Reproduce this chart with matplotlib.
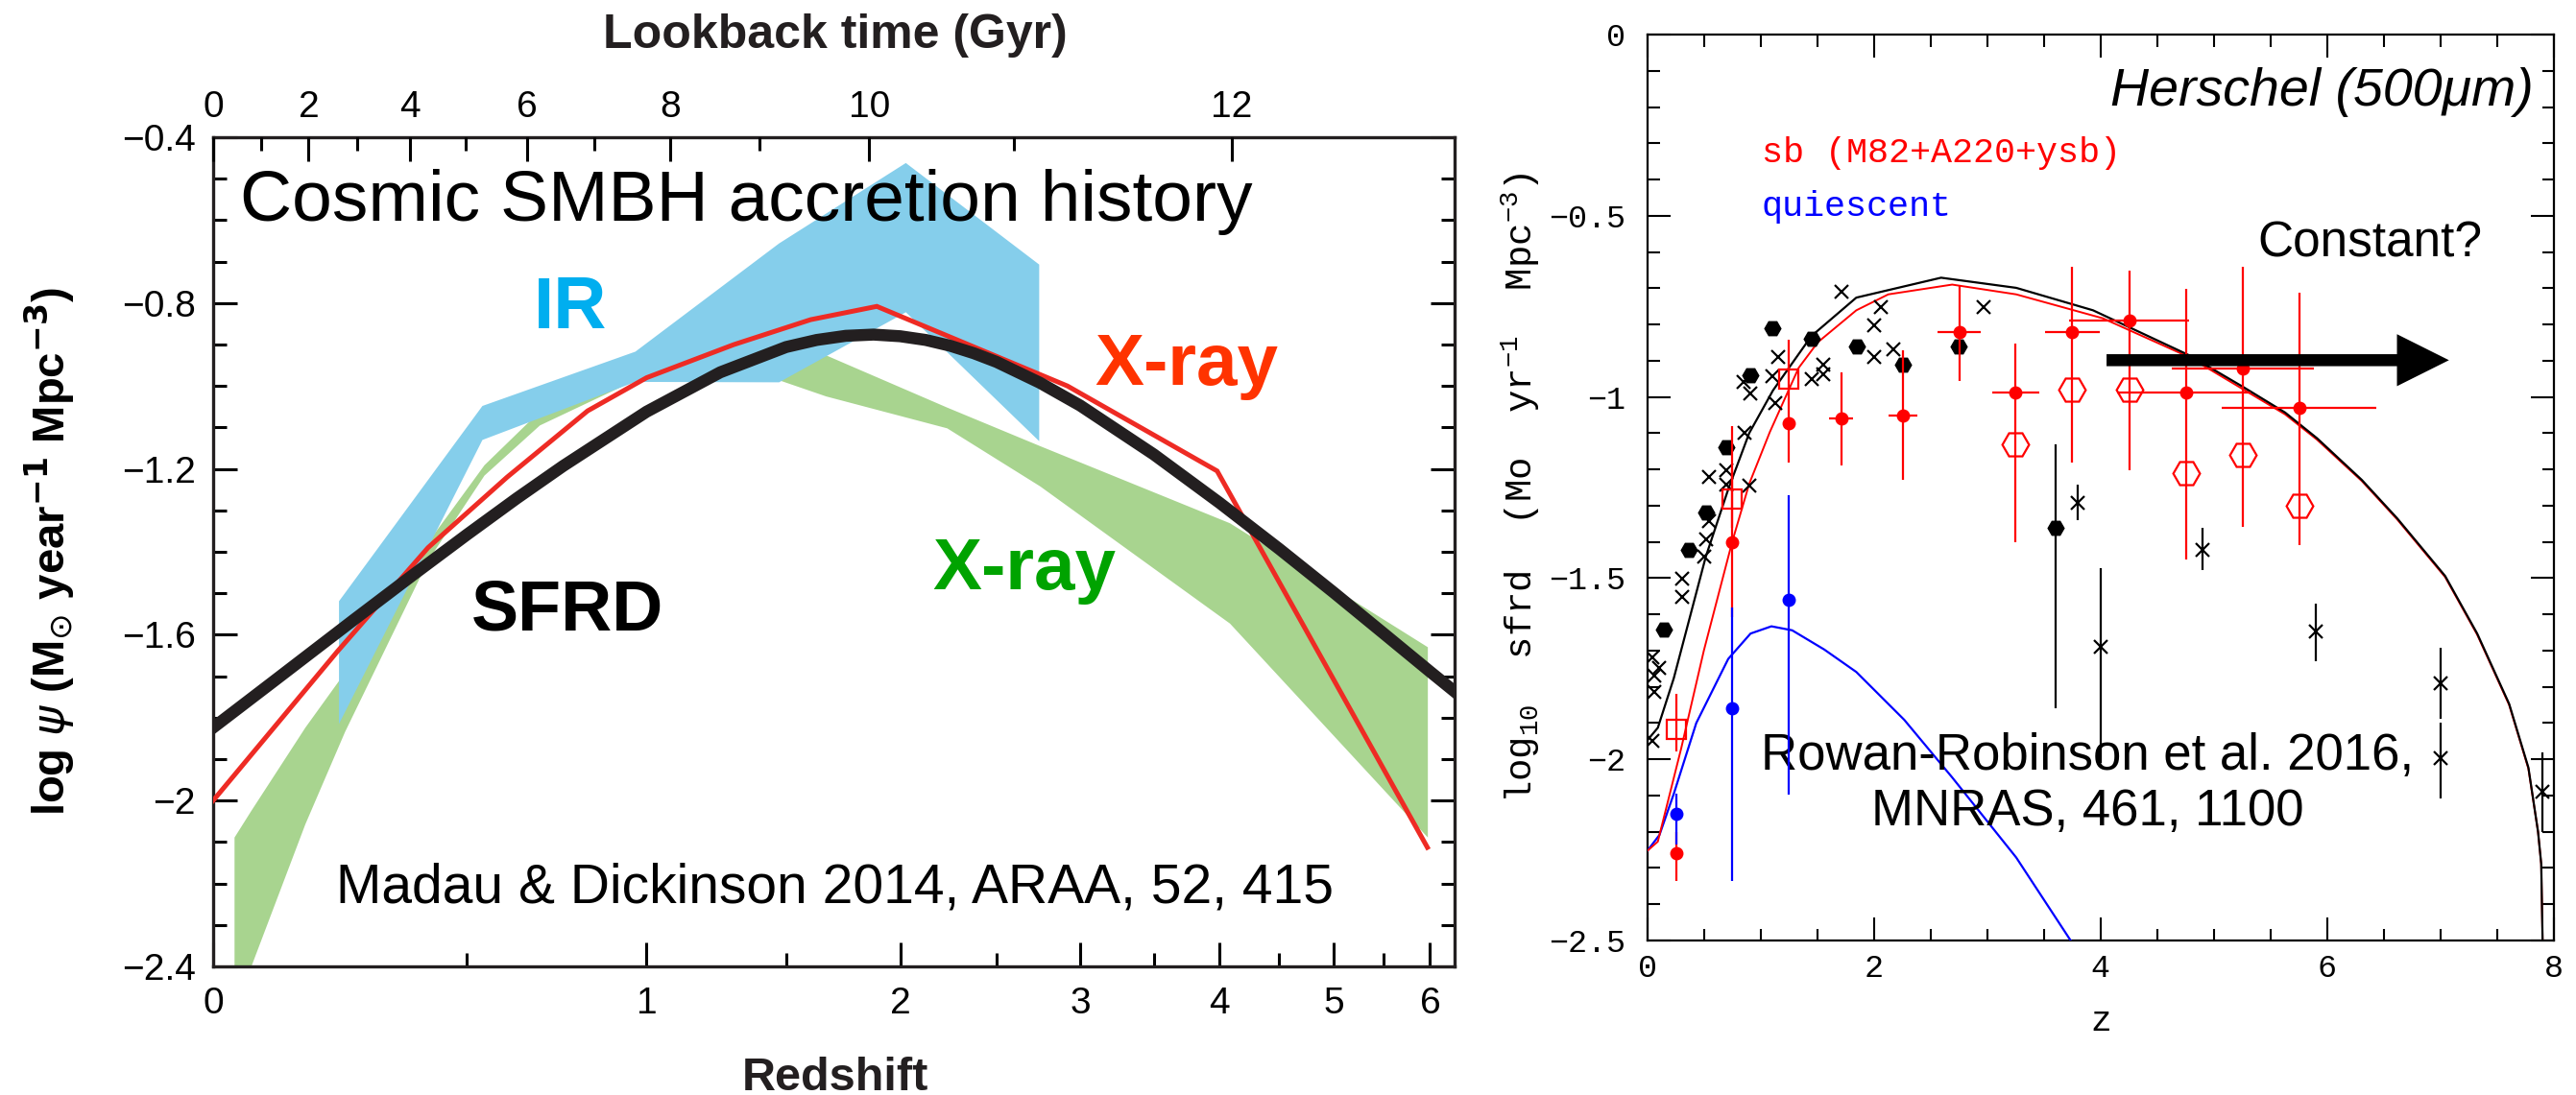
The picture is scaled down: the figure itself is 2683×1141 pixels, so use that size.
import numpy as np
import matplotlib
matplotlib.use("Agg")
import matplotlib.pyplot as plt
from matplotlib.ticker import FixedLocator, MultipleLocator

plt.rcParams.update({
    "font.family": ["Liberation Sans", "DejaVu Sans"],
    "mathtext.fontset": "custom",
    "mathtext.rm": "Liberation Mono",
    "mathtext.it": "Liberation Mono:italic",
    "mathtext.bf": "Liberation Mono:bold",
})

# ---------------- left panel (Madau & Dickinson 2014) ----------------
sfrd_z = [0, 0.1, 0.25, 0.375, 0.5, 0.625, 0.75, 1.0, 1.25, 1.5, 1.625, 1.75, 1.875,
          2.0, 2.125, 2.25, 2.375, 2.5, 2.75, 3.0, 3.5, 4.0, 4.5, 5.0, 5.5, 6.0, 6.28]
sfrd_v = [-1.824, -1.714, -1.566, -1.457, -1.359, -1.271, -1.193, -1.062, -0.967,
          -0.906, -0.889, -0.879, -0.876, -0.880, -0.889, -0.903, -0.921, -0.942,
          -0.992, -1.047, -1.165, -1.282, -1.393, -1.498, -1.597, -1.689, -1.737]

xray_red_z = [0, 0.22, 0.41, 0.6, 0.82, 1.0, 1.3, 1.6, 1.89, 2.92, 3.98, 5.97]
xray_red_v = [-2.00, -1.64, -1.39, -1.22, -1.06, -0.98, -0.90, -0.84, -0.808,
              -1.00, -1.205, -2.113]

ir_z = [0.222, 0.537, 0.963, 1.47, 2.025, 2.744]
ir_hi = [-1.518, -1.047, -0.916, -0.655, -0.461, -0.706]
ir_lo = [-1.814, -1.129, -0.989, -0.990, -0.821, -1.132]

xg_z = [0.034, 0.062, 0.158, 0.234, 0.41, 0.542, 0.685, 0.963, 1.47, 1.663,
        2.232, 2.75, 4.08, 5.97]
xg_hi = [-2.088, -2.024, -1.823, -1.69, -1.375, -1.19, -1.06, -0.97, -0.975,
         -0.925, -1.051, -1.144, -1.33, -1.629]
xg_lo = [-2.51, -2.40, -2.056, -1.833, -1.419, -1.215, -1.094, -0.985, -0.985,
         -1.024, -1.101, -1.241, -1.572, -2.088]

z_ticks = [0, 1, 2, 3, 4, 5, 6]
z_minor = [0.5, 1.5, 2.5, 3.5, 4.5, 5.5]
lookback_gyr = [0, 1, 2, 3, 4, 5, 6, 7, 8, 9, 10, 11, 12]
lookback_z = [0, 0.079, 0.165, 0.259, 0.370, 0.498, 0.653, 0.840, 1.076, 1.395,
              1.855, 2.596, 4.097]
psi_ticks = [-0.4, -0.8, -1.2, -1.6, -2.0, -2.4]
psi_labels = ["\u22120.4", "\u22120.8", "\u22121.2", "\u22121.6", "\u22122", "\u22122.4"]

# ---------------- right panel (Rowan-Robinson et al. 2016) ----------------
mod_blk_z = [0, 0.094, 0.235, 0.517, 0.715, 0.9, 1.11, 1.449, 1.845, 2.593, 3.256,
             3.934, 4.781, 5.261, 5.628, 5.91, 6.305, 6.617, 7.04, 7.323, 7.605,
             7.775, 7.86, 7.888, 7.90]
mod_blk_v = [-1.948, -1.913, -1.776, -1.441, -1.255, -1.10, -0.982, -0.832, -0.726,
             -0.671, -0.699, -0.761, -0.885, -0.973, -1.043, -1.114, -1.229, -1.335,
             -1.494, -1.653, -1.847, -2.023, -2.2, -2.288, -2.5]
mod_red_z = [0, 0.094, 0.30, 0.50, 0.75, 0.90, 1.082, 1.336, 1.506, 1.845, 2.127,
             2.691, 3.256, 4.02, 4.781, 5.628, 5.91, 6.305, 6.617, 7.04, 7.323, 7.605,
             7.775, 7.86, 7.888, 7.90]
mod_red_v = [-2.253, -2.227, -1.97, -1.70, -1.40, -1.24, -1.097, -0.92, -0.849,
             -0.761, -0.717, -0.690, -0.717, -0.783, -0.89, -1.048, -1.118, -1.232,
             -1.338, -1.497, -1.656, -1.85, -2.026, -2.2, -2.29, -2.5]
mod_blu_z = [0, 0.108, 0.235, 0.433, 0.715, 0.912, 1.096, 1.279, 1.562, 1.845, 2.268,
             2.691, 3.256, 3.736]
mod_blu_v = [-2.253, -2.209, -2.095, -1.90, -1.723, -1.653, -1.633, -1.644, -1.697,
             -1.759, -1.891, -2.05, -2.271, -2.5]

hex_z = [0.150, 0.371, 0.523, 0.701, 0.907, 1.102, 1.455, 1.853, 2.254, 2.748]
hex_v = [-1.641, -1.421, -1.320, -1.139, -0.939, -0.811, -0.839, -0.860, -0.911, -0.861]
hexe_z = [3.603]
hexe_v = [-1.361]
hexe_lo = [-1.86]
hexe_hi = [-1.132]

cross_z = [0.043, 0.06, 0.06, 0.108, 0.043, 0.306, 0.306, 0.503, 0.517, 0.546, 0.546,
           0.701, 0.701, 0.851, 0.856, 0.899, 0.907, 1.102, 1.13, 1.158, 1.455, 1.557,
           1.557, 1.712, 2.006, 2.006, 2.065, 2.175, 2.97]
cross_v = [-1.948, -1.815, -1.768, -1.749, -1.718, -1.551, -1.501, -1.441, -1.392,
           -1.343, -1.22, -1.242, -1.203, -0.96, -1.10, -1.246, -0.99, -0.942, -1.017,
           -0.891, -0.951, -0.937, -0.911, -0.710, -0.891, -0.803, -0.751, -0.869, -0.751]
crosse_z = [3.801, 4.004, 4.902, 5.902, 6.998, 6.998, 7.90]
crosse_v = [-1.292, -1.69, -1.421, -1.648, -1.789, -1.998, -2.089]
crosse_lo = [-1.339, -2.010, -1.479, -1.73, -1.887, -2.109, -2.2]
crosse_hi = [-1.242, -1.472, -1.361, -1.571, -1.691, -1.90, -1.981]

rc_z = [0.255, 0.752, 1.251, 1.712, 2.254, 2.754, 3.251, 3.751, 4.253, 4.753, 5.253, 5.755]
rc_v = [-2.26, -1.401, -1.072, -1.06, -1.051, -0.82, -0.989, -0.82, -0.789, -0.989,
        -0.922, -1.03]
rc_lo = [-2.337, -1.607, -1.181, -1.189, -1.229, -0.955, -1.40, -1.181, -1.203, -1.448,
         -1.359, -1.41]
rc_hi = [-2.20, -1.08, -0.841, -0.931, -0.872, -0.69, -0.852, -0.642, -0.652, -0.702,
         -0.642, -0.713]
rc_zlo = [0.255, 0.752, 1.251, 1.605, 2.127, 2.565, 3.044, 3.511, 3.722, 4.142, 4.626, 5.072]
rc_zhi = [0.255, 0.752, 1.251, 1.817, 2.381, 2.94, 3.462, 3.991, 4.781, 5.327, 5.882, 6.433]

sq_z = [0.255, 0.752, 1.251]
sq_v = [-1.917, -1.282, -0.951]
sq_lo = [-1.979, -1.36, -0.951]
sq_hi = [-1.82, -1.20, -0.951]

ohex_z = [3.251, 3.751, 4.253, 4.753, 5.253, 5.755]
ohex_v = [-1.13, -0.98, -0.98, -1.209, -1.161, -1.30]

bd_z = [0.255, 0.752, 1.251]
bd_v = [-2.15, -1.86, -1.56]
bd_lo = [-2.235, -2.337, -2.098]
bd_hi = [-2.094, -1.582, -1.271]


def fwd(z):
    return np.log10(np.maximum(1.0 + np.asarray(z, float), 1e-9))


def inv(v):
    return 10.0 ** np.asarray(v, float) - 1.0


W, H = 2683, 1141
fig = plt.figure(figsize=(W / 100, H / 100), dpi=100)
fig.patch.set_facecolor("white")

# ======================= LEFT =======================
axL = fig.add_axes([222 / W, 1 - 1007 / H, 1293 / W, 864 / H])
axL.set_xscale("function", functions=(fwd, inv))
axL.set_xlim(0, 6.28)
axL.set_ylim(-2.4, -0.4)

axL.fill_between(xg_z, xg_lo, xg_hi, color="#A8D48F", lw=0, zorder=1)
axL.fill_between(ir_z, ir_lo, ir_hi, color="#85CEEB", lw=0, zorder=2)
axL.plot(xray_red_z, xray_red_v, color="#EE2B24", lw=3.6, zorder=3,
         solid_joinstyle="miter")
axL.plot(sfrd_z, sfrd_v, color="#231F20", lw=9, zorder=4, solid_joinstyle="round")

axL.xaxis.set_major_locator(FixedLocator(z_ticks))
axL.xaxis.set_minor_locator(FixedLocator(z_minor))
axL.set_xticklabels([str(t) for t in z_ticks])
axL.set_yticks(psi_ticks, psi_labels)
axL.yaxis.set_minor_locator(MultipleLocator(0.1))
axL.tick_params(which="both", direction="in", top=False, right=True, width=2.2,
                labelsize=28)
axL.tick_params(which="major", length=18)
axL.tick_params(which="minor", length=10)
axL.tick_params(axis="x", pad=15)
axL.tick_params(axis="y", pad=13)
for s in axL.spines.values():
    s.set_linewidth(2.4)
    s.set_color("#231F20")

axT = axL.twiny()
axT.set_xscale("function", functions=(fwd, inv))
axT.set_xlim(axL.get_xlim())
axT.xaxis.set_major_locator(FixedLocator(lookback_z[::2]))
axT.set_xticklabels([str(g) for g in lookback_gyr[::2]])
axT.xaxis.set_minor_locator(FixedLocator(lookback_z[1::2]))
axT.tick_params(which="both", direction="in", width=2.2, labelsize=28, pad=9)
axT.tick_params(which="major", length=18)
axT.tick_params(which="minor", length=10)
for s in axT.spines.values():
    s.set_visible(False)

axT.set_xlabel("Lookback time (Gyr)", fontsize=36, fontweight="bold", color="#231F20")
axT.xaxis.set_label_coords(0.501, 1 + (143 - 50) / 864)
axT.xaxis.label.set_va("baseline")
axL.set_xlabel("Redshift", fontsize=35, fontweight="bold", color="#231F20")
axL.xaxis.set_label_coords(0.501, -(1136 - 1007) / 864)
axL.xaxis.label.set_va("baseline")
axL.set_ylabel(r"log $\psi$ (M$_{\odot}$ year$^{\mathbf{-1}}$ Mpc$^{\mathbf{-3}}$)",
               fontsize=34, fontweight="bold", math_fontfamily="dejavusans")
axL.yaxis.set_label_coords(-(222 - 80) / 1293, 0.5)

axL.text(0.0217, 0.8993, "Cosmic SMBH accretion history", transform=axL.transAxes,
         fontsize=54, va="baseline", ha="left")
axL.text(0.258, 0.7692, "IR", transform=axL.transAxes, fontsize=55,
         fontweight="bold", color="#00AEEF", va="baseline")
axL.text(0.71, 0.7014, "X-ray", transform=axL.transAxes, fontsize=55,
         fontweight="bold", color="#FF3300", va="baseline")
axL.text(0.5797, 0.4549, "X-ray", transform=axL.transAxes, fontsize=55,
         fontweight="bold", color="#00A300", va="baseline")
axL.text(0.2078, 0.404, "SFRD", transform=axL.transAxes, fontsize=53,
         fontweight="bold", color="black", va="baseline")
axL.text(0.0988, 0.0775, "Madau & Dickinson 2014, ARAA, 52, 415",
         transform=axL.transAxes, fontsize=41, va="baseline")

# ======================= RIGHT =======================
axR = fig.add_axes([1715.6 / W, 1 - 980 / H, 944.4 / W, 944 / H])
axR.set_xlim(0, 8)
axR.set_ylim(-2.5, 0)

axR.plot(mod_blu_z, mod_blu_v, color="blue", lw=1.6, zorder=3)
axR.plot(mod_red_z, mod_red_v, color="red", lw=1.4, zorder=3)
axR.plot(mod_blk_z, mod_blk_v, color="black", lw=1.6, zorder=3.5)

ekw = dict(capsize=0, elinewidth=1.6, linestyle="none")
axR.plot(hex_z, hex_v, "H", color="black", ms=12, zorder=4)
axR.errorbar(hexe_z, hexe_v,
             yerr=[np.subtract(hexe_v, hexe_lo), np.subtract(hexe_hi, hexe_v)],
             fmt="H", color="black", ms=12, zorder=4, **ekw)
axR.plot(cross_z, cross_v, "x", color="black", ms=10, mew=1.6, zorder=4)
axR.errorbar(crosse_z, crosse_v,
             yerr=[np.subtract(crosse_v, crosse_lo), np.subtract(crosse_hi, crosse_v)],
             fmt="x", color="black", ms=10, mew=1.6, zorder=4, **ekw)
axR.errorbar(rc_z, rc_v,
             yerr=[np.subtract(rc_v, rc_lo), np.subtract(rc_hi, rc_v)],
             xerr=[np.subtract(rc_z, rc_zlo), np.subtract(rc_zhi, rc_z)],
             fmt="o", color="red", ms=9, zorder=5, **ekw)
axR.errorbar(sq_z, sq_v,
             yerr=[np.subtract(sq_v, sq_lo), np.subtract(sq_hi, sq_v)],
             fmt="s", color="red", mfc="none", ms=14, mew=1.6, zorder=5, **ekw)
axR.plot(ohex_z, ohex_v, "H", color="red", mfc="none", ms=20, mew=1.6, zorder=5)
axR.errorbar(bd_z, bd_v,
             yerr=[np.subtract(bd_v, bd_lo), np.subtract(bd_hi, bd_v)],
             fmt="o", color="blue", ms=9, zorder=5, **ekw)

axR.annotate("", xy=(7.074, -0.8986), xytext=(4.053, -0.8986),
             arrowprops=dict(arrowstyle="simple,head_length=3.9,head_width=3.9,tail_width=0.9",
                             fc="black", ec="none", lw=0, shrinkA=0, shrinkB=0,
                             mutation_scale=10), zorder=6)

mono = "Liberation Mono"
axR.set_xticks([0, 2, 4, 6, 8], ["0", "2", "4", "6", "8"], fontfamily=mono)
axR.set_yticks([0, -0.5, -1, -1.5, -2, -2.5],
               ["0", "\u22120.5", "\u22121", "\u22121.5", "\u22122", "\u22122.5"],
               fontfamily=mono)
axR.xaxis.set_minor_locator(MultipleLocator(0.5))
axR.yaxis.set_minor_locator(MultipleLocator(0.1))
axR.tick_params(which="both", direction="in", top=True, right=True, width=1.5,
                labelsize=24)
axR.tick_params(which="major", length=17)
axR.tick_params(which="minor", length=9)
axR.tick_params(axis="x", pad=10)
axR.tick_params(axis="y", pad=16)
for s in axR.spines.values():
    s.set_linewidth(1.6)

axR.set_xlabel("z", fontsize=26, fontfamily=mono)
axR.xaxis.set_label_coords(0.5, -(1074 - 980) / 944)
axR.xaxis.label.set_va("baseline")
axR.set_ylabel(r"log$_{10}$  sfrd  (Mo  yr$^{-1}$  Mpc$^{-3}$)", fontsize=28,
               fontfamily=mono)
# slightly left of the reference so the label does not sit on the tick labels
axR.yaxis.set_label_coords(-(1715.6 - 1606) / 944.4, 0.5)

axR.text(0.9778, 0.9216, "Herschel (500\u03bcm)", transform=axR.transAxes,
         fontsize=40, style="italic", ha="right", va="baseline")
axR.text(0.1264, 0.8588, "sb (M82+A220+ysb)", transform=axR.transAxes,
         fontsize=26.5, fontfamily=mono, color="red", va="baseline")
axR.text(0.1264, 0.800, "quiescent", transform=axR.transAxes,
         fontsize=26.5, fontfamily=mono, color="blue", va="baseline")
axR.text(0.6736, 0.755, "Constant?", transform=axR.transAxes, fontsize=37,
         va="baseline")
axR.text(0.4855, 1 - (860 - 36) / 944, "Rowan-Robinson et al. 2016,\nMNRAS, 461, 1100",
         transform=axR.transAxes, fontsize=38, ha="center", va="baseline",
         multialignment="center", linespacing=1.2)

fig.savefig("out.png", dpi=100, facecolor="white")
